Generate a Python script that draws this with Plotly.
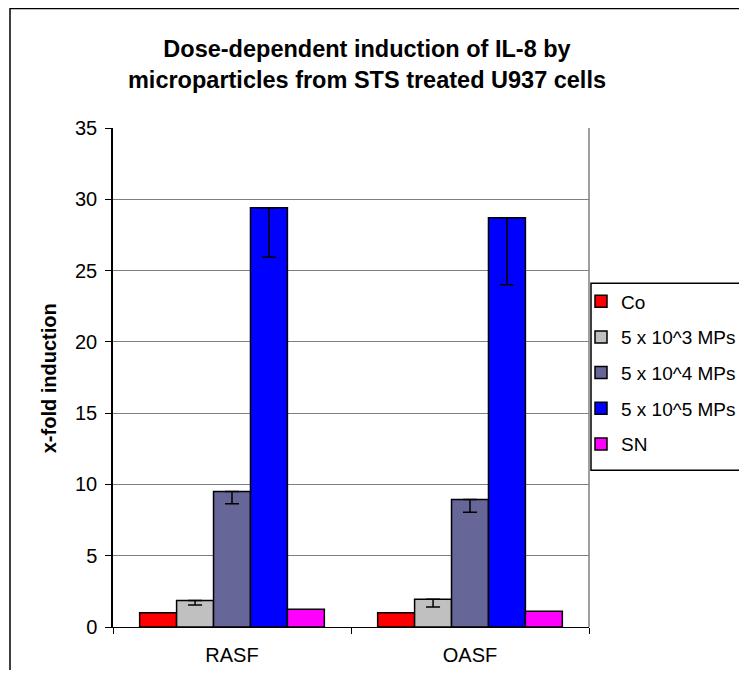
import plotly.graph_objects as go

categories = ["RASF", "OASF"]
series_names = ["Co", "5 x 10^3 MPs", "5 x 10^4 MPs", "5 x 10^5 MPs", "SN"]
series_colors = ["#FF0000", "#C0C0C0", "#666699", "#0000FF", "#FF00FF"]
values = {
    "Co": [1.0, 1.0],
    "5 x 10^3 MPs": [1.85, 1.95],
    "5 x 10^4 MPs": [9.5, 8.95],
    "5 x 10^5 MPs": [29.4, 28.7],
    "SN": [1.25, 1.1],
}
errors_minus = {
    "Co": [0.0, 0.0],
    "5 x 10^3 MPs": [0.3, 0.55],
    "5 x 10^4 MPs": [0.85, 0.9],
    "5 x 10^5 MPs": [3.45, 4.7],
    "SN": [0.0, 0.0],
}
y_ticks = [0, 5, 10, 15, 20, 25, 30, 35]

FONT = "Liberation Sans, Arial, sans-serif"

OFF = 8  # page body margin
W, H = 747 - 2 * OFF, 678 - 2 * OFF
# plot area in page pixels
PX0, PX1, PY0, PY1 = 113, 589, 127.5, 627
ML, MR = PX0 - OFF, W - (PX1 - OFF)
MT, MB = PY0 - OFF, H - (PY1 - OFF)
PW, PH = PX1 - PX0, PY1 - PY0


def px_x(px):
    return (px - PX0) / PW


def px_y(py):
    return (PY1 - py) / PH


fig = go.Figure()
for name, color in zip(series_names, series_colors):
    em = errors_minus[name]
    has_err = any(e > 0 for e in em)
    fig.add_trace(go.Bar(
        name=name,
        x=categories,
        y=values[name],
        legendgroup=name,
        marker=dict(color=color, line=dict(color="black", width=1.5)),
        error_y=dict(type="data", symmetric=False, array=[0, 0], arrayminus=em,
                     color="black", thickness=1.5, width=7, visible=has_err),
    ))

fig.update_layout(
    width=W, height=H,
    margin=dict(l=ML, r=MR, t=MT, b=MB, autoexpand=False),
    paper_bgcolor="white", plot_bgcolor="white",
    barmode="group", bargap=0.224, bargroupgap=0,
    font=dict(family=FONT, size=20, color="black"),
    title=dict(
        text="<b>Dose-dependent induction of IL-8 by<br>microparticles from STS treated U937 cells</b>",
        x=(367 - OFF) / W, xanchor="center", xref="container",
        y=1 - (57 - OFF) / H, yanchor="middle", yref="container",
        font=dict(family=FONT, size=23.5, color="black"),
    ),
    showlegend=True,
    legend=dict(
        x=px_x(581), xanchor="left", y=px_y(282), yanchor="top",
        bgcolor="rgba(0,0,0,0)", borderwidth=0,
        font=dict(family=FONT, size=19, color="black"),
        tracegroupgap=8, traceorder="grouped",
    ),
    xaxis=dict(
        showline=True, linecolor="black", linewidth=1,
        ticks="outside", ticklen=6, tickcolor="black", tickson="boundaries",
        showgrid=False, tickfont=dict(size=20), ticklabelstandoff=10,
    ),
    yaxis=dict(
        range=[0, 35], tickvals=y_ticks, ticktext=[str(t) for t in y_ticks],
        showline=True, linecolor="black", linewidth=1.5,
        ticks="outside", ticklen=6, tickcolor="black",
        showgrid=True, gridcolor="#7f7f7f", gridwidth=1,
        zeroline=False, tickfont=dict(size=20), ticklabelstandoff=4,
    ),
    shapes=[
        # outer chart border
        dict(type="rect", xref="paper", yref="paper",
             x0=px_x(10), x1=px_x(800), y0=px_y(750), y1=px_y(8),
             line=dict(color="black", width=1.5), fillcolor="rgba(0,0,0,0)", layer="below"),
        # plot area right border
        dict(type="line", xref="paper", yref="paper", x0=1, x1=1, y0=0, y1=1,
             line=dict(color="#7f7f7f", width=1.5)),
        # legend box
        dict(type="rect", xref="paper", yref="paper",
             x0=px_x(591), x1=px_x(800), y0=px_y(470), y1=px_y(283),
             line=dict(color="black", width=1.5), fillcolor="white", layer="below"),
    ],
    annotations=[
        dict(text="<b>x-fold induction</b>", xref="paper", yref="paper",
             x=px_x(49), y=px_y(378), textangle=-90, showarrow=False,
             xanchor="center", yanchor="middle",
             font=dict(family=FONT, size=20, color="black")),
    ],
)

fig.write_html("out.html")
